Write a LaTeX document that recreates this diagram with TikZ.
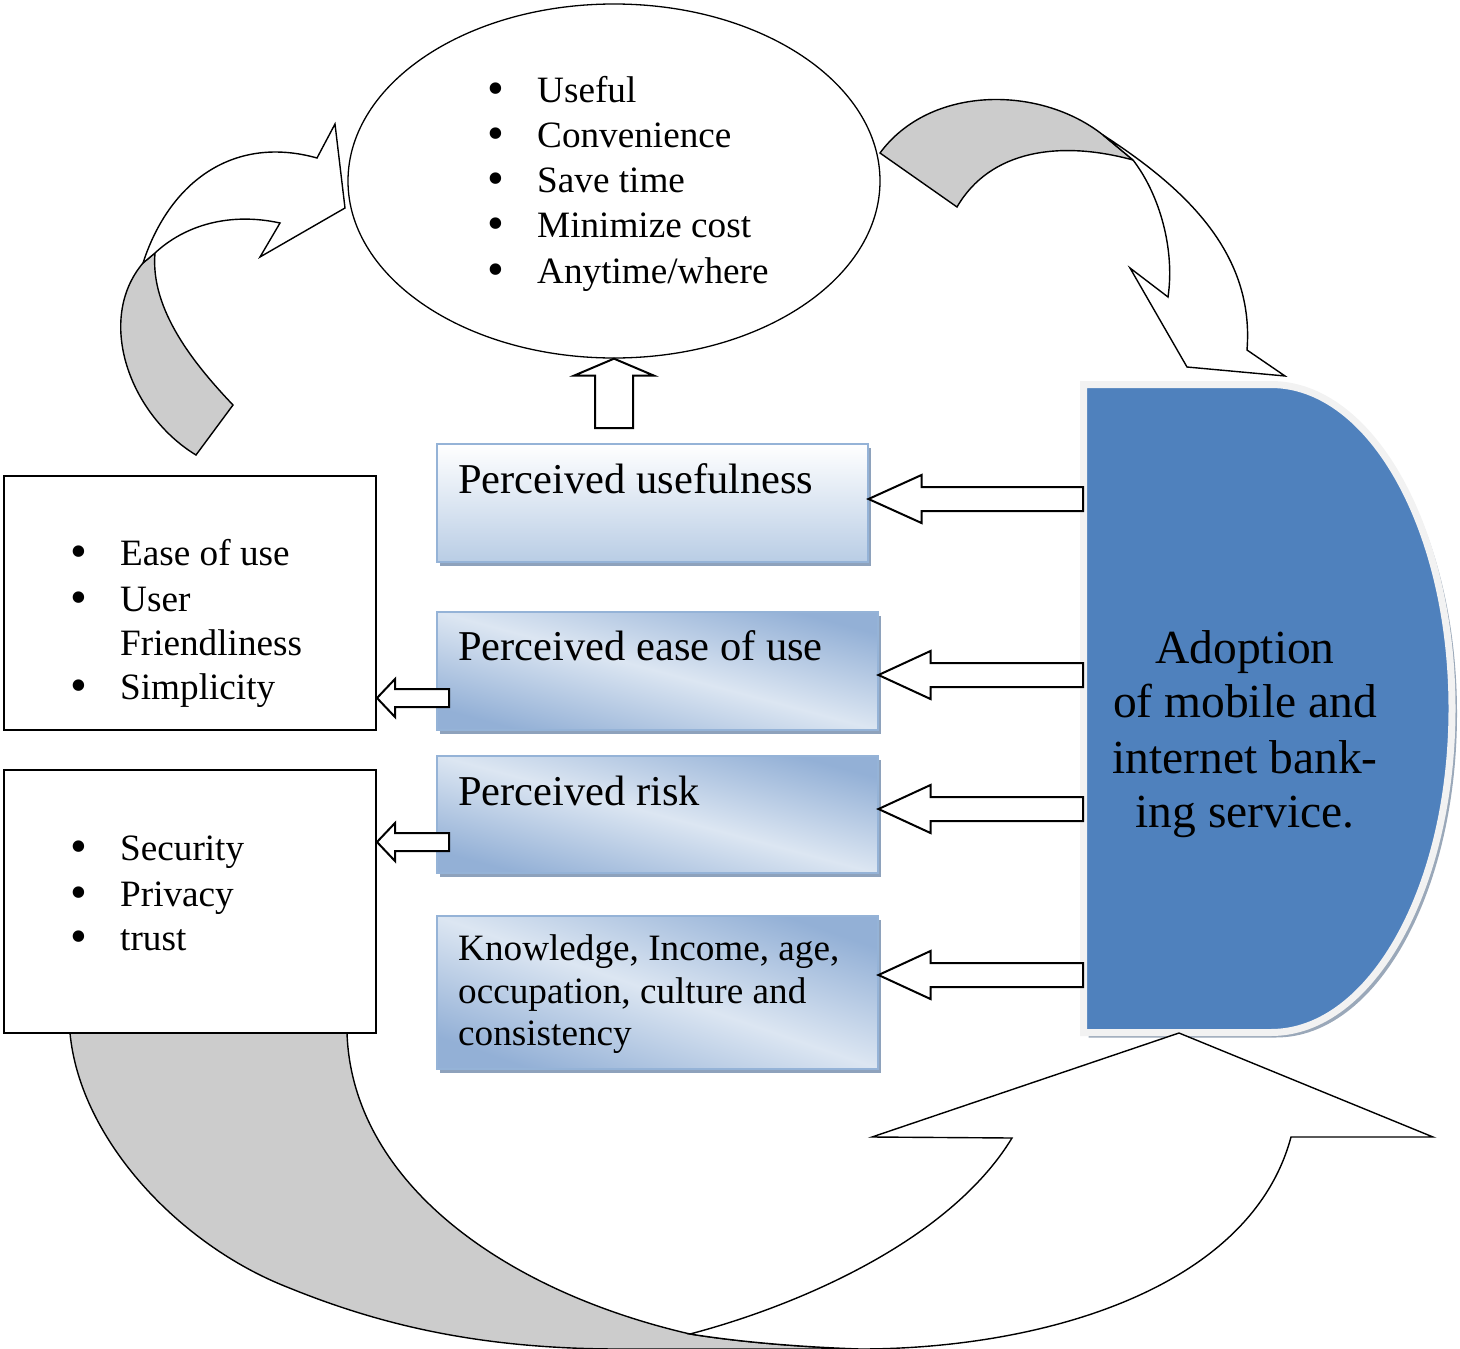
\documentclass[tikz,border=0pt]{standalone}
\usepackage{fontspec}
\setmainfont{Liberation Serif}
\usetikzlibrary{shapes.geometric,shadows,calc}
\definecolor{gfill}{HTML}{CCCCCC}
\definecolor{bfill}{HTML}{4F81BD}
\definecolor{bborder}{HTML}{F2F2F2}
\definecolor{bshadow}{HTML}{9AA8B9}
\definecolor{boxline}{HTML}{95B3D7}
\definecolor{boxdk}{HTML}{93B0D6}
\definecolor{boxlt}{HTML}{DCE6F2}
\definecolor{boxbot}{HTML}{B9CDE5}
\definecolor{boxshadow}{HTML}{8EA2BC}
\newcommand\bul{\makebox[50pt][l]{\raisebox{-2pt}{\fontsize{48}{48}\selectfont\textbullet}}}
\newcommand\nobul{\makebox[50pt][l]{}}
\newcommand\lblock[5]{%
  \draw[blockarrow] let \p1=(#1), \p2=(#2) in
   (\x1,\y1) -- ({\x1+#3},{\y1+#4}) -- ({\x1+#3},{\y1+#5}) -- ({\x2},{\y1+#5})
   -- ({\x2},{\y1-#5}) -- ({\x1+#3},{\y1-#5}) -- ({\x1+#3},{\y1-#4}) -- cycle;}
\tikzset{
  txt/.style={inner sep=0pt, anchor=base west, font=\fontsize{37.2}{44}\selectfont},
  ptxt/.style={inner sep=0pt, anchor=base west, font=\fontsize{42.5}{50}\selectfont},
  atxt/.style={inner sep=0pt, anchor=base, font=\fontsize{47.5}{55}\selectfont},
  curvedarrow/.style={draw=black, line width=1.4pt, line join=miter},
  blockarrow/.style={draw=black, fill=white, line width=2pt, line join=miter},
  listbox/.style={draw=black, line width=2pt, fill=white, inner sep=0pt, anchor=north west},
  pbox/.style={draw=boxline, line width=1.5pt, inner sep=0pt, anchor=north west,
    drop shadow={shadow xshift=3pt, shadow yshift=-4pt, fill=boxshadow, opacity=1}},
  vshade/.style={top color=white, bottom color=boxbot},
  dshade/.style={top color=boxdk, bottom color=boxdk, middle color=boxlt, shading angle=#1},
  dshade/.default=-15,
}
\begin{document}
\begin{tikzpicture}[x=1pt,y=-1pt]
\useasboundingbox (0,0) rectangle (1460,1349);

% curved arrows
\draw[curvedarrow, fill=gfill] (196,455) .. controls (130,415) and (95,320) .. (143,263)
  -- (155,253) .. controls (150,310) and (195,365) .. (233,405) -- cycle;
\draw[curvedarrow, fill=white] (143,263) .. controls (170,180) and (235,135) .. (317,158)
  -- (335,124) -- (345,208) -- (260,257) -- (280,223)
  .. controls (230,212) and (185,225) .. (155,253) -- cycle;

\draw[curvedarrow, fill=gfill] (880,153) .. controls (930,85) and (1040,85) .. (1103,135)
  -- (1133,160) .. controls (1060,140) and (990,150) .. (957,207) -- cycle;
\draw[curvedarrow, fill=white] (1103,135) .. controls (1180,185) and (1255,250) .. (1247,350)
  -- (1285,376) -- (1187,367) -- (1130,268) -- (1168,297)
  .. controls (1175,250) and (1160,195) .. (1133,160) -- cycle;

\draw[curvedarrow, fill=gfill] (70,1033) .. controls (80,1140) and (180,1245) .. (287,1287)
  .. controls (380,1325) and (480,1349) .. (620,1349) -- (860,1349)
  .. controls (800,1347) and (740,1342) .. (690,1334)
  .. controls (500,1290) and (352,1180) .. (347,1033) -- cycle;

% ellipse
\node[draw, line width=1.3pt, ellipse, inner sep=0pt, minimum width=532pt, minimum height=354pt] (ell) at (614,181) {};

% list boxes
\node[listbox, minimum width=372pt, minimum height=254pt] (lb1) at (3,475) {};
\node[listbox, minimum width=372pt, minimum height=263pt] (lb2) at (3,769) {};

% perceived boxes
\node[pbox, vshade, minimum width=431pt, minimum height=118pt] (pu) at (436,443) {};
\node[pbox, dshade=-15, minimum width=441pt, minimum height=118pt] (pe) at (436,611) {};
\node[pbox, dshade=-15, minimum width=441pt, minimum height=117pt] (pr) at (436,755) {};
\node[pbox, dshade=-19, minimum width=441pt, minimum height=153pt] (pk) at (436,915) {};

% adoption shape
\fill[bshadow, shift={(5,5)}] (1083.5,384.5) -- (1271,384.5) .. controls (1371.5,384.5) and (1452,529.5) .. (1452,708.5)
  .. controls (1452,887.5) and (1371.5,1032.5) .. (1271,1032.5) -- (1083.5,1032.5) -- cycle;
\draw[bborder, line width=7pt, fill=bfill] (1083.5,384.5) -- (1271,384.5) .. controls (1371.5,384.5) and (1452,529.5) .. (1452,708.5)
  .. controls (1452,887.5) and (1371.5,1032.5) .. (1271,1032.5) -- (1083.5,1032.5) -- cycle;

% bottom big arrow front
\draw[curvedarrow, fill=white] (690,1334) .. controls (800,1305) and (950,1240) .. (1012,1138)
  -- (872,1137) -- (1179,1033) -- (1433,1137) -- (1291,1137)
  .. controls (1250,1290) and (1040,1349) .. (860,1349)
  .. controls (800,1347) and (740,1342) .. (690,1334) -- cycle;

% block arrows
\coordinate (ua) at (614,428);
\draw[blockarrow] let \p1=(ell.south), \p2=(ua) in (\x1,\y1) -- ({\x1+40pt},{\y1-17pt})
  -- ({\x1+19pt},{\y1-17pt}) -- ({\x1+19pt},{\y2}) -- ({\x1-19pt},{\y2})
  -- ({\x1-19pt},{\y1-17pt}) -- ({\x1-40pt},{\y1-17pt}) -- cycle;

\coordinate (r1) at (1083,499);
\coordinate (r2) at (1083,675);
\coordinate (r3) at (1083,809);
\coordinate (r4) at (1083,975);
\lblock{pu.east |- r1}{r1}{53pt}{24pt}{12pt}
\lblock{pe.east |- r2}{r2}{52pt}{24pt}{12pt}
\lblock{pr.east |- r3}{r3}{52pt}{24pt}{12pt}
\lblock{pk.east |- r4}{r4}{52pt}{24pt}{12pt}

\coordinate (t1) at (449,698);
\coordinate (t2) at (449,842);
\lblock{lb1.east |- t1}{t1}{18pt}{19pt}{9pt}
\lblock{lb2.east |- t2}{t2}{18pt}{19pt}{9pt}

% texts
\foreach \t [count=\i] in {Useful,Convenience,Save time,Minimize cost,Anytime/where}
  \node[txt] (u\i) at (487,{102+45.25*(\i-1)}) {\bul\t};

\node[txt] (e1) at (70,565) {\bul Ease of use};
\node[txt] (e2) at (70,611) {\bul User};
\node[txt] (e3) at (70,655) {\nobul Friendliness};
\node[txt] (e4) at (70,699) {\bul Simplicity};

\node[txt] (s1) at (70,860) {\bul Security};
\node[txt] (s2) at (70,906) {\bul Privacy};
\node[txt] (s3) at (70,950) {\bul trust};

\node[ptxt] (tpu) at (458,493) {Perceived usefulness};
\node[ptxt] (tpe) at (458,660) {Perceived ease of use};
\node[ptxt] (tpr) at (458,805) {Perceived risk};
\node[txt] (tk1) at (458,960) {Knowledge, Income, age,};
\node[txt] (tk2) at (458,1003) {occupation, culture and};
\node[txt] (tk3) at (458,1045) {consistency};

\node[atxt] (a1) at (1245,663) {Adoption};
\node[atxt] (a2) at (1245,717) {of mobile and};
\node[atxt] (a3) at (1245,773) {internet bank-};
\node[atxt] (a4) at (1245,827) {ing service.};
\end{tikzpicture}
\end{document}
